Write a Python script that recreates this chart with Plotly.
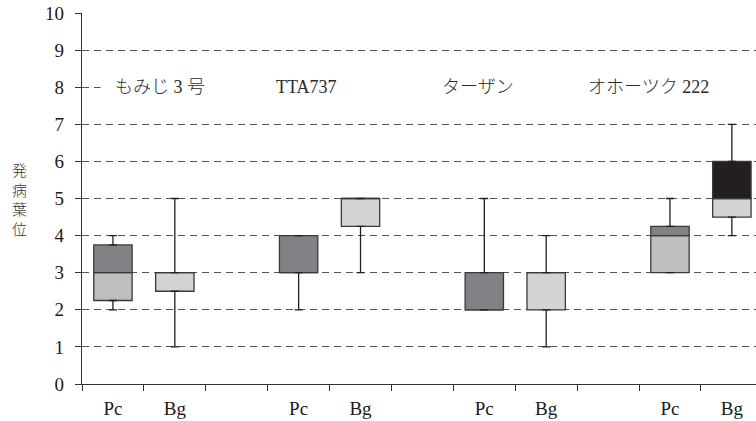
import plotly.graph_objects as go

# Varieties and pathogens
varieties = ["もみじ 3 号", "TTA737", "ターザン", "オホーツク 222"]
pathogens = ["Pc", "Bg"]

# Five-number summaries of the diseased leaf position, per variety
pc_min = [2, 2, 2, 3]
pc_q1 = [2.25, 3, 2, 3]
pc_med = [3, 3, 2, 4]
pc_q3 = [3.75, 4, 3, 4.25]
pc_max = [4, 4, 5, 5]

bg_min = [1, 3, 1, 4]
bg_q1 = [2.5, 4.25, 2, 4.5]
bg_med = [3, 5, 3, 5]
bg_q3 = [3, 5, 3, 6]
bg_max = [5, 5, 4, 7]

y_ticks = list(range(0, 11))

# colours: (lower half, upper half) of each box
colors = {
    "Pc": ("#bcbec0", "#808285"),
    "Bg": ("#d1d3d4", "#231f20"),
}

stats = {
    "Pc": (pc_min, pc_q1, pc_med, pc_q3, pc_max),
    "Bg": (bg_min, bg_q1, bg_med, bg_q3, bg_max),
}

SERIF = "Liberation Serif, Noto Sans CJK JP, serif"
EDGE = "#3a3a3a"
BOX_W = 0.62

fig = go.Figure()

slot_x = {}
for j, p in enumerate(pathogens):
    slot_x[p] = [3 * i + j for i in range(len(varieties))]

for p in pathogens:
    mn, q1, md, q3, mx = stats[p]
    xs = slot_x[p]
    lo_c, hi_c = colors[p]
    # lower part of the box: Q1 -> median
    fig.add_trace(go.Bar(
        x=xs, y=[m - a for m, a in zip(md, q1)], base=q1, width=BOX_W,
        marker=dict(color=lo_c, line=dict(color=EDGE, width=1.3)),
        showlegend=False, hoverinfo="skip"))
    # upper part of the box: median -> Q3
    fig.add_trace(go.Bar(
        x=xs, y=[b - m for b, m in zip(q3, md)], base=md, width=BOX_W,
        marker=dict(color=hi_c, line=dict(color=EDGE, width=1.3)),
        showlegend=False, hoverinfo="skip"))
    # upper whisker: Q3 -> max
    fig.add_trace(go.Scatter(
        x=xs, y=q3, mode="markers", marker=dict(size=1, opacity=0),
        error_y=dict(type="data", symmetric=False,
                     array=[b - a for a, b in zip(q3, mx)],
                     arrayminus=[0] * len(xs),
                     color="#231f20", thickness=1.3, width=4),
        showlegend=False, hoverinfo="skip"))
    # lower whisker: Q1 -> min
    fig.add_trace(go.Scatter(
        x=xs, y=q1, mode="markers", marker=dict(size=1, opacity=0),
        error_y=dict(type="data", symmetric=False,
                     array=[0] * len(xs),
                     arrayminus=[a - b for a, b in zip(q1, mn)],
                     color="#231f20", thickness=1.3, width=4),
        showlegend=False, hoverinfo="skip"))

tick_vals = sorted(slot_x["Pc"] + slot_x["Bg"])
tick_text = [pathogens[v % 3] for v in tick_vals]

# blank band behind the variety names
fig.add_shape(type="rect", xref="x", yref="y", x0=-0.2, x1=10.6, y0=7.75, y1=8.25,
              fillcolor="white", line_width=0, layer="between")

label_x = [0.76, 3.12, 5.9, 8.65]
for name, lx in zip(varieties, label_x):
    fig.add_annotation(x=lx, y=8, xref="x", yref="y", text=name, showarrow=False,
                       font=dict(family=SERIF, size=18, color="#2a2a2a", weight=300))

fig.add_annotation(x=-0.092, y=5, xref="paper", yref="y", text="発<br>病<br>葉<br>位",
                   showarrow=False, xanchor="center", yanchor="middle",
                   font=dict(family="Noto Sans CJK JP", size=15, color="#333333", weight=300))

fig.update_layout(
    width=756, height=421,
    margin=dict(l=82, r=0, t=13, b=37),
    paper_bgcolor="white", plot_bgcolor="white",
    barmode="overlay",
    font=dict(family=SERIF, size=19, color="#1a1a1a"),
    xaxis=dict(
        range=[-0.5, 10.39],
        tickmode="array", tickvals=tick_vals, ticktext=tick_text,
        ticks="", showgrid=False, zeroline=False,
        showline=True, linecolor="#333333", linewidth=1.3,
        ticklabelstandoff=7,
        minor=dict(tickmode="array", tickvals=[k - 0.5 for k in range(11)],
                   ticks="outside", ticklen=6, tickcolor="#333333", tickwidth=1.3,
                   showgrid=False),
    ),
    yaxis=dict(
        range=[0, 10], tickmode="array", tickvals=y_ticks,
        ticks="outside", ticklen=6, tickcolor="#333333", tickwidth=1.3,
        showgrid=True, gridcolor="#555555", gridwidth=1.4, griddash="7px,5px",
        zeroline=False, showline=True, linecolor="#333333", linewidth=1.3,
        ticklabelstandoff=7,
    ),
)

fig.write_html("out.html")
